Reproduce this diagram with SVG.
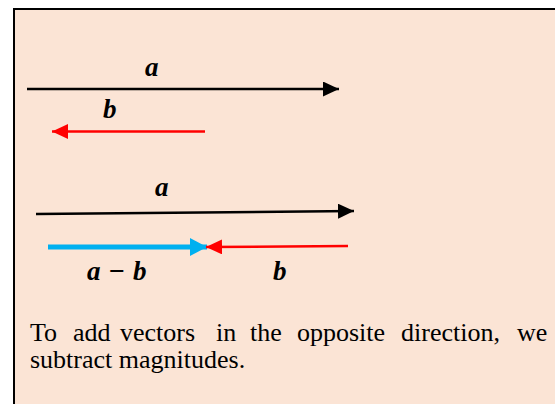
<svg xmlns="http://www.w3.org/2000/svg" width="555" height="404" viewBox="0 0 555 404">
<defs>
<style>
.lbl{font-family:"Liberation Serif","DejaVu Serif",serif;font-weight:bold;font-style:italic;font-size:27px;fill:#000}
.op{font-family:"Liberation Serif","DejaVu Serif",serif;font-size:28px;font-weight:bold;font-style:normal;fill:#000}
.txt{font-family:"Liberation Serif","DejaVu Serif",serif;font-size:26px;fill:#000}
</style>
<marker id="hb" viewBox="0 0 16 15" refX="16" refY="7.5" markerWidth="16" markerHeight="15" markerUnits="userSpaceOnUse" orient="auto"><path d="M0,0 L16,7.5 L0,15 Z" fill="#000"/></marker>
<marker id="hr" viewBox="0 0 16 15" refX="16" refY="7.5" markerWidth="16" markerHeight="15" markerUnits="userSpaceOnUse" orient="auto"><path d="M0,0 L16,7.5 L0,15 Z" fill="#FF0000"/></marker>
<marker id="hc" viewBox="0 0 17 18" refX="17" refY="9" markerWidth="17" markerHeight="18" markerUnits="userSpaceOnUse" orient="auto"><path d="M0,0 L17,9 L0,18 Z" fill="#00B0F0"/></marker>
</defs>
<rect x="14" y="9" width="550" height="405" fill="#FBE4D5" stroke="#000" stroke-width="2"/>
<g id="connectors">
<line x1="27" y1="89" x2="339" y2="89" stroke="#000" stroke-width="2.5" marker-end="url(#hb)"/>
<line x1="205" y1="131.5" x2="52" y2="131.5" stroke="#FF0000" stroke-width="2.5" marker-end="url(#hr)"/>
<line x1="36" y1="214" x2="354" y2="211" stroke="#000" stroke-width="2.5" marker-end="url(#hb)"/>
<line x1="48" y1="247" x2="207" y2="247" stroke="#00B0F0" stroke-width="5" marker-end="url(#hc)"/>
<line x1="348" y1="246" x2="206" y2="247" stroke="#FF0000" stroke-width="2.5" marker-end="url(#hr)"/>
</g>
<g id="labels">
<text class="lbl" x="145" y="76">a</text>
<text class="lbl" x="103" y="118">b</text>
<text class="lbl" x="155" y="196">a</text>
<text class="lbl" x="87" y="280">a<tspan class="op" x="109">−</tspan><tspan x="133">b</tspan></text>
<text class="lbl" x="273" y="280">b</text>
</g>
<g id="caption">
<text class="txt" y="341"><tspan x="30">To</tspan><tspan x="73">add</tspan><tspan x="120">vectors</tspan><tspan x="216">in</tspan><tspan x="250">the</tspan><tspan x="297">opposite</tspan><tspan x="401">direction,</tspan><tspan x="517">we</tspan></text>
<text class="txt" x="30" y="368">subtract magnitudes.</text>
</g>
</svg>
